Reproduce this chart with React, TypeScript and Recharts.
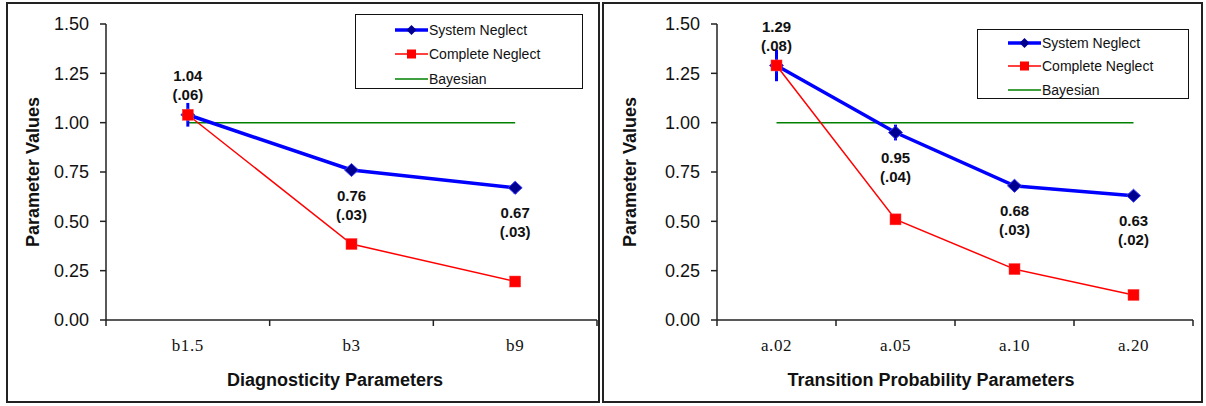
import React from 'react';
import { LineChart, Line, XAxis, YAxis, ErrorBar, LabelList, Legend } from 'recharts';

// left panel: diagnosticity parameters
const diagCategories = ['b1.5', 'b3', 'b9'];
const diagSystem = [1.04, 0.76, 0.67];
const diagSystemSE = [0.06, 0.03, 0.03];
const diagComplete = [1.04, 0.385, 0.195];
const diagBayes = [1, 1, 1];

// right panel: transition probability parameters
const transCategories = ['a.02', 'a.05', 'a.10', 'a.20'];
const transSystem = [1.29, 0.95, 0.68, 0.63];
const transSystemSE = [0.08, 0.04, 0.03, 0.02];
const transComplete = [1.29, 0.51, 0.258, 0.127];
const transBayes = [1, 1, 1, 1];

const yTicks = [0, 0.25, 0.5, 0.75, 1, 1.25, 1.5];

const SANS = '"Liberation Sans", Arial, Helvetica, sans-serif';
const SERIF = '"Liberation Serif", "Times New Roman", serif';
const BLUE = '#0000ff';
const RED = '#ff0000';
const GREEN = '#008000';
const AXIS = '#222';

const fmtSE = (v: number) => '(' + v.toFixed(2).replace(/^0/, '') + ')';

function Diamond(props: any) {
    const { cx, cy } = props;
    if (cx == null || cy == null) return null;
    const rx = 7;
    const ry = 6.5;
    return (
        <polygon
            points={`${cx},${cy - ry} ${cx + rx},${cy} ${cx},${cy + ry} ${cx - rx},${cy}`}
            fill="#000090"
            stroke="#3a3aff"
            strokeWidth={1}
        />
    );
}

function Square(props: any) {
    const { cx, cy } = props;
    if (cx == null || cy == null) return null;
    const s = 11;
    return <rect x={cx - s / 2} y={cy - s / 2} width={s} height={s} fill={RED} stroke="#ff4040" strokeWidth={0.5} />;
}

function LegendBox({ width, height, lineX, textX, rows }: any) {
    return (
        <div
            style={{
                width,
                height,
                boxSizing: 'border-box',
                border: '1.5px solid #111',
                background: '#fff',
                position: 'relative',
                fontFamily: SANS,
                fontSize: 14,
                color: '#111',
            }}
        >
            {[
                { name: 'System Neglect', color: BLUE, w: 3.5, mark: 'diamond' },
                { name: 'Complete Neglect', color: RED, w: 1.5, mark: 'square' },
                { name: 'Bayesian', color: GREEN, w: 1.5, mark: null },
            ].map((it, i) => (
                <div key={it.name} style={{ position: 'absolute', left: 0, top: rows[i] - 9, height: 18, width: '100%' }}>
                    <svg width={34} height={18} style={{ position: 'absolute', left: lineX, top: 0 }}>
                        <line x1={0} y1={9} x2={33} y2={9} stroke={it.color} strokeWidth={it.w} />
                        {it.mark === 'diamond' && <polygon points="16.5,4 21.5,9 16.5,14 11.5,9" fill="#000090" />}
                        {it.mark === 'square' && <rect x={12} y={4.5} width={9} height={9} fill={RED} />}
                    </svg>
                    <span style={{ position: 'absolute', left: textX, top: 0, lineHeight: '18px', whiteSpace: 'nowrap' }}>
                        {it.name}
                    </span>
                </div>
            ))}
        </div>
    );
}

function Panel(p: any) {
    const data = p.categories.map((c: string, i: number) => ({
        cat: c,
        system: p.system[i],
        se: p.se[i],
        complete: p.complete[i],
        bayes: p.bayes[i],
    }));
    const n = p.categories.length;
    const yAxisW = 70;
    const xAxisH = 60;
    const plotW = p.width - p.margin.left - yAxisW - p.margin.right;
    const bw = plotW / n;
    const axisY = p.height - p.margin.bottom - xAxisH;

    const CatTick = (t: any) => {
        const { x, index, payload } = t;
        return (
            <g>
                <line x1={x - bw / 2} y1={axisY} x2={x - bw / 2} y2={axisY + 6} stroke={AXIS} strokeWidth={1.5} />
                {index === n - 1 && (
                    <line x1={x + bw / 2} y1={axisY} x2={x + bw / 2} y2={axisY + 6} stroke={AXIS} strokeWidth={1.5} />
                )}
                <text
                    x={x}
                    y={axisY + 31}
                    textAnchor="middle"
                    fontFamily={SERIF}
                    fontSize={17}
                    letterSpacing={0.6}
                    fill="#111"
                >
                    {payload.value}
                </text>
            </g>
        );
    };

    const ValueLabel = (l: any) => {
        const { x, y, index, value } = l;
        if (x == null || y == null) return null;
        const up = index === 0;
        const y1 = up ? y - 39 : y + 25;
        return (
            <g fontFamily={SANS} fontSize={15} fontWeight="bold" fill="#111">
                <text x={x} y={y1} textAnchor="middle" dominantBaseline="central">
                    {Number(value).toFixed(2)}
                </text>
                <text x={x} y={y1 + 19} textAnchor="middle" dominantBaseline="central">
                    {fmtSE(p.se[index])}
                </text>
            </g>
        );
    };

    return (
        <div style={{ position: 'absolute', left: p.left, top: 0, width: p.width, height: p.height }}>
            <LineChart width={p.width} height={p.height} data={data} margin={p.margin}>
                <XAxis
                    dataKey="cat"
                    scale="band"
                    interval={0}
                    height={xAxisH}
                    tickLine={false}
                    axisLine={{ stroke: AXIS, strokeWidth: 1.5 }}
                    tick={<CatTick />}
                    label={() => (
                        <text x={p.xTitleX} y={axisY + 66} textAnchor="middle" fontFamily={SANS} fontSize={18} fontWeight="bold" fill="#111">
                            {p.xTitle}
                        </text>
                    )}
                />
                <YAxis
                    domain={[0, 1.5]}
                    ticks={yTicks}
                    width={yAxisW}
                    tickSize={6}
                    tickMargin={11}
                    tickFormatter={(v: number) => v.toFixed(2)}
                    axisLine={{ stroke: AXIS, strokeWidth: 1.5 }}
                    tickLine={{ stroke: AXIS, strokeWidth: 1.5 }}
                    tick={{ fill: '#111', fontSize: 18, fontFamily: SANS }}
                    label={() => (
                        <text
                            x={p.yTitleX}
                            y={(p.margin.top + axisY) / 2}
                            transform={`rotate(-90, ${p.yTitleX}, ${(p.margin.top + axisY) / 2})`}
                            textAnchor="middle"
                            dominantBaseline="central"
                            fontFamily={SANS}
                            fontSize={18}
                            fontWeight="bold"
                            fill="#111"
                        >
                            Parameter Values
                        </text>
                    )}
                />
                <Legend
                    layout="vertical"
                    align="center"
                    verticalAlign="middle"
                    wrapperStyle={{ left: p.legend.left, top: p.legend.top, width: p.legend.width, height: p.legend.height }}
                    content={() => (
                        <LegendBox
                            width={p.legend.width}
                            height={p.legend.height}
                            lineX={p.legend.lineX}
                            textX={p.legend.textX}
                            rows={p.legend.rows}
                        />
                    )}
                />
                <Line dataKey="bayes" name="Bayesian" stroke={GREEN} strokeWidth={1.5} dot={false} isAnimationActive={false} />
                <Line
                    dataKey="system"
                    name="System Neglect"
                    stroke={BLUE}
                    strokeWidth={3.5}
                    dot={<Diamond />}
                    isAnimationActive={false}
                >
                    <ErrorBar dataKey="se" direction="y" width={0} stroke={BLUE} strokeWidth={3} isAnimationActive={false} />
                    <LabelList dataKey="system" content={<ValueLabel />} />
                </Line>
                <Line
                    dataKey="complete"
                    name="Complete Neglect"
                    stroke={RED}
                    strokeWidth={1.5}
                    dot={<Square />}
                    isAnimationActive={false}
                />
            </LineChart>
        </div>
    );
}

export default function App() {
    return (
        <div style={{ position: 'absolute', left: 0, top: 0, width: 1206, height: 406, background: '#fff', overflow: 'hidden' }}>
            <div style={{ position: 'absolute', left: 6, top: 2, width: 594, height: 401, border: '2px solid #222', boxSizing: 'border-box' }} />
            <div style={{ position: 'absolute', left: 602, top: 2, width: 601, height: 401, border: '2px solid #222', boxSizing: 'border-box' }} />
            <Panel
                left={0}
                width={600}
                height={406}
                margin={{ top: 24, right: 3, bottom: 26, left: 36 }}
                categories={diagCategories}
                system={diagSystem}
                se={diagSystemSE}
                complete={diagComplete}
                bayes={diagBayes}
                xTitle="Diagnosticity Parameters"
                xTitleX={335}
                yTitleX={33}
                legend={{ left: 355, top: 14, width: 228, height: 75, lineX: 39, textX: 73, rows: [15, 39, 64] }}
            />
            <Panel
                left={600}
                width={606}
                height={406}
                margin={{ top: 24, right: 13, bottom: 26, left: 47 }}
                categories={transCategories}
                system={transSystem}
                se={transSystemSE}
                complete={transComplete}
                bayes={transBayes}
                xTitle="Transition Probability Parameters"
                xTitleX={331}
                yTitleX={30}
                legend={{ left: 377, top: 29, width: 212, height: 70, lineX: 30, textX: 64, rows: [13, 36, 60] }}
            />
        </div>
    );
}
